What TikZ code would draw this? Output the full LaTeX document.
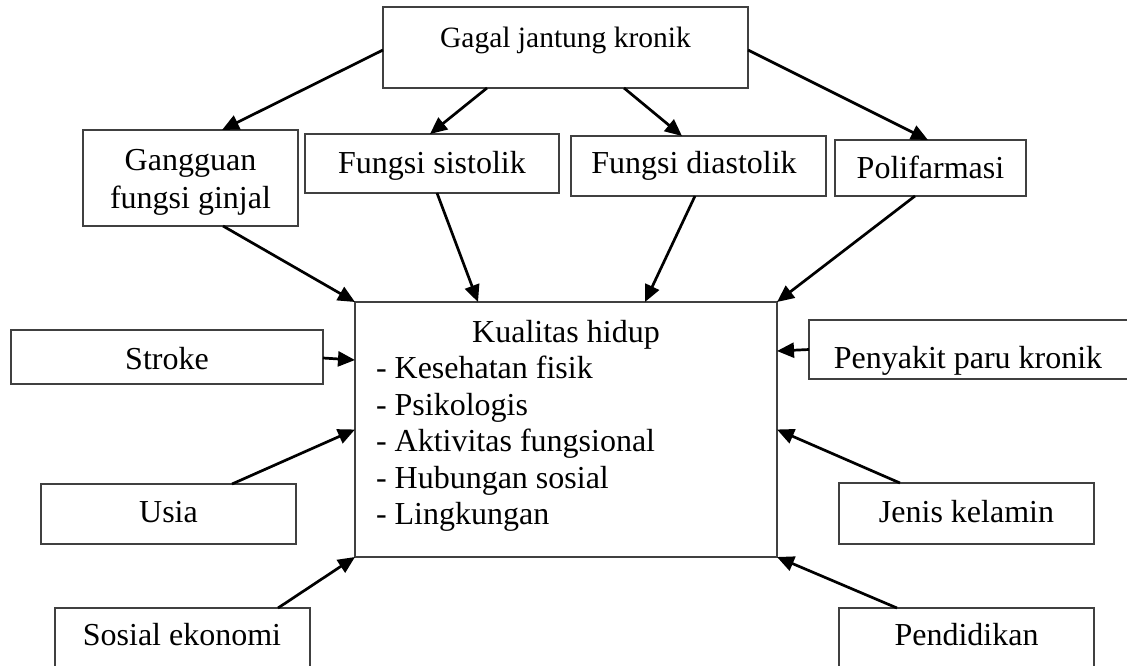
\documentclass[tikz,border=0pt]{standalone}
\usepackage{fontspec}
\setmainfont{Liberation Serif}
\usetikzlibrary{arrows.meta,calc}
\begin{document}
\begin{tikzpicture}[x=1pt,y=-1pt,
  box/.style={draw=black!75,line width=1.2pt,rectangle,inner sep=0pt,outer sep=0pt},
  txt/.style={inner sep=0pt,outer sep=0pt,anchor=base,font=\fontsize{32}{37}\selectfont},
  lst/.style={txt,anchor=base west},
  arr/.style={line width=2.7pt,-{Triangle[length=17pt,width=15pt]}}]
\useasboundingbox (0,0) rectangle (1127,665);
% boxes
\node[box,minimum width=365pt,minimum height=81pt] (gagal) at (565.5,47.5) {};
\node[box,minimum width=215pt,minimum height=96pt] (gg) at (190.5,178) {};
\node[box,minimum width=254pt,minimum height=59pt] (sis) at (432,163.5) {};
\node[box,minimum width=255pt,minimum height=60pt] (dia) at (698.5,166) {};
\node[box,minimum width=191pt,minimum height=56pt] (pol) at (930.5,168) {};
\node[box,minimum width=422pt,minimum height=255pt] (kh) at (566,429.5) {};
\node[box,minimum width=312pt,minimum height=54pt] (str) at (167,357) {};
\node[box,minimum width=321pt,minimum height=59pt] (pen) at (969.5,349.5) {};
\node[box,minimum width=255pt,minimum height=60pt] (usia) at (168.5,514) {};
\node[box,minimum width=255pt,minimum height=62pt] (sos) at (182.5,639) {};
\node[box,minimum width=255pt,minimum height=61pt] (jen) at (966.5,513.5) {};
\node[box,minimum width=255pt,minimum height=62pt] (pnd) at (966.5,639) {};
% texts
\node[txt,font=\fontsize{29.5}{35}\selectfont] (gagalT) at (565.5,47) {Gagal jantung kronik};
\node[txt] (ggT1) at (190.5,170) {Gangguan};
\node[txt] (ggT2) at (190.5,208) {fungsi ginjal};
\node[txt] (sisT) at (432,173) {Fungsi sistolik};
\node[txt] (diaT) at (694,173) {Fungsi diastolik};
\node[txt] (polT) at (930.5,178) {Polifarmasi};
\node[txt] (khT) at (566,342) {Kualitas hidup};
\node[lst] (kh1) at (376,378.5) {- Kesehatan fisik};
\node[lst] (kh2) at (376,415) {- Psikologis};
\node[lst] (kh3) at (376,451.5) {- Aktivitas fungsional};
\node[lst] (kh4) at (376,488) {- Hubungan sosial};
\node[lst] (kh5) at (376,524.5) {- Lingkungan};
\node[txt] (strT) at (167,369) {Stroke};
\node[txt] (penT) at (968,368) {Penyakit paru kronik};
\node[txt] (usiaT) at (168.5,522) {Usia};
\node[txt] (sosT) at (182,645) {Sosial ekonomi};
\node[txt] (jenT) at (966.5,522) {Jenis kelamin};
\node[txt] (pndT) at (966.5,645) {Pendidikan};
% arrows
\draw[arr] ([yshift=-2.5pt]gagal.west) -- ([xshift=31.5pt]gg.north);
\draw[arr] ([xshift=-78.5pt]gagal.south) -- ([xshift=-2pt]sis.north);
\draw[arr] ([xshift=58.5pt]gagal.south) -- ([xshift=-16.5pt]dia.north);
\draw[arr] ([yshift=-2.5pt]gagal.east) -- ([xshift=-2.5pt]pol.north);
\draw[arr] ([xshift=32.5pt]gg.south) -- (kh.north west);
\draw[arr] ([xshift=5pt]sis.south) -- ([xshift=-88pt]kh.north);
\draw[arr] ([xshift=-3.5pt]dia.south) -- ([xshift=79pt]kh.north);
\draw[arr] ([xshift=-15.5pt]pol.south) -- (kh.north east);
\draw[arr] ([yshift=-1pt]str.east) -- ([yshift=69.5pt]kh.west);
\draw[arr] (pen.west) -- ([yshift=78.5pt]kh.east);
\draw[arr] ([xshift=63.5pt]usia.north) -- (kh.west);
\draw[arr] ([xshift=95.5pt]sos.north) -- (kh.south west);
\draw[arr] ([xshift=-66.5pt]jen.north) -- (kh.east);
\draw[arr] ([xshift=-69.5pt]pnd.north) -- (kh.south east);
\end{tikzpicture}
\end{document}
